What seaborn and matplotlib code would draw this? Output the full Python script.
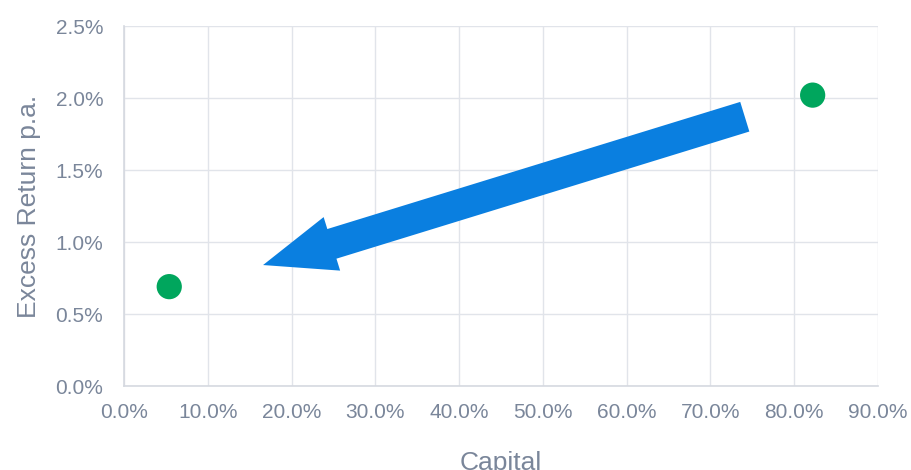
import matplotlib
matplotlib.use("Agg")
import matplotlib.pyplot as plt
import seaborn as sns
import pandas as pd
from matplotlib.ticker import PercentFormatter, MultipleLocator

# Data (percent)
capital = [5.4, 82.2]
excess_return = [0.69, 2.02]
# Arrow annotation (data coords, percent)
arrow_tail = (74.1, 1.87)
arrow_head = (16.6, 0.84)

df = pd.DataFrame({"Capital": capital, "Excess Return p.a.": excess_return})

sns.set_theme(style="whitegrid")
plt.rcParams["font.family"] = ["Liberation Sans", "DejaVu Sans"]

text_color = "#7a869a"
grid_color = "#e1e4ea"
green = "#00a65d"
blue = "#0a7fe0"

fig = plt.figure(figsize=(9.11, 4.70), dpi=100)
ax = fig.add_axes([124/911, (470-386)/470, (878-124)/911, (386-26)/470])

sns.scatterplot(data=df, x="Capital", y="Excess Return p.a.", ax=ax,
                color=green, s=330, edgecolor="none", zorder=5)

ax.annotate("", xy=arrow_head, xytext=arrow_tail,
            arrowprops=dict(arrowstyle="simple,head_length=0.72,head_width=0.56,tail_width=0.31",
                            mutation_scale=72, color=blue, shrinkA=0, shrinkB=0, lw=0),
            zorder=4)

ax.set_xlim(0, 90)
ax.set_ylim(0, 2.5)
ax.xaxis.set_major_locator(MultipleLocator(10))
ax.yaxis.set_major_locator(MultipleLocator(0.5))
ax.xaxis.set_major_formatter(PercentFormatter(decimals=1))
ax.yaxis.set_major_formatter(PercentFormatter(decimals=1))

ax.grid(True, color=grid_color, linewidth=1)
for side, sp in ax.spines.items():
    sp.set_visible(side in ("left", "bottom"))
    sp.set_color("#d5d9e0")
    sp.set_linewidth(1.2)

ax.tick_params(axis="both", colors=text_color, length=0, labelsize=15)
ax.tick_params(axis="y", pad=15)
ax.tick_params(axis="x", pad=12)

ax.set_xlabel("Capital", color=text_color, fontsize=19)
ax.set_ylabel("Excess Return p.a.", color=text_color, fontsize=19)
ax.xaxis.set_label_coords(0.5, -0.18)
ax.yaxis.set_label_coords(-0.11, 0.5)

fig.savefig("out.png", dpi=100)
